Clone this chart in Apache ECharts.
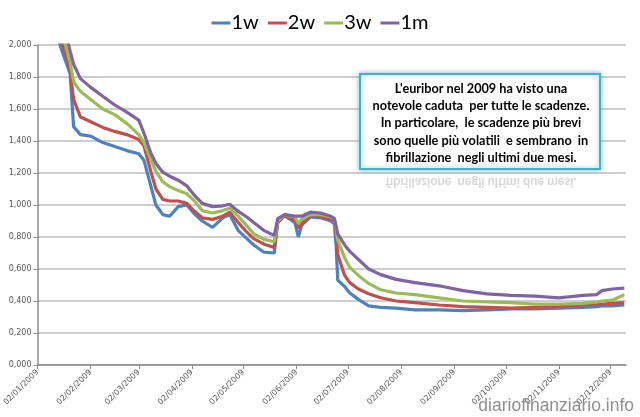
<!DOCTYPE html>
<html>
<head>
<meta charset="utf-8">
<script src="https://cdn.jsdelivr.net/npm/echarts@6/dist/echarts.min.js"></script>
<style>html,body{margin:0;padding:0;background:#fff}#c{width:640px;height:417px}</style>
</head>
<body>
<div id="c"></div>
<script>
// ---- data ----
const dates = ['2009-01-02','2009-01-09','2009-01-14','2009-01-16','2009-01-19','2009-01-21','2009-01-23','2009-01-27',
'2009-02-02','2009-02-09','2009-02-16','2009-02-23','2009-03-02','2009-03-05','2009-03-09','2009-03-12','2009-03-16',
'2009-03-20','2009-03-25','2009-03-30','2009-04-03','2009-04-08','2009-04-14','2009-04-20','2009-04-24','2009-04-29',
'2009-05-04','2009-05-08','2009-05-14','2009-05-20','2009-05-22','2009-05-26','2009-06-01','2009-06-03','2009-06-05',
'2009-06-10','2009-06-16','2009-06-22','2009-06-24','2009-06-25','2009-06-26','2009-06-30','2009-07-03','2009-07-08',
'2009-07-14','2009-07-21','2009-07-30','2009-08-10','2009-08-24','2009-09-07','2009-09-21','2009-10-05','2009-10-19',
'2009-11-02','2009-11-16','2009-11-24','2009-11-27','2009-12-03','2009-12-10'];
const w1 = [2.40,2.20,2.04,1.97,1.88,1.82,1.49,1.44,
1.43,1.39,1.365,1.34,1.32,1.28,1.12,1.00,0.94,
0.93,0.99,1.00,0.95,0.90,0.86,0.92,0.94,0.84,
0.79,0.75,0.705,0.70,0.89,0.935,0.89,0.80,0.875,
0.925,0.92,0.90,0.88,0.75,0.53,0.49,0.45,0.41,
0.37,0.36,0.355,0.345,0.345,0.34,0.345,0.35,0.35,
0.355,0.36,0.365,0.37,0.37,0.375];
const w2 = [2.50,2.30,2.10,2.02,1.92,1.84,1.66,1.55,
1.52,1.485,1.46,1.44,1.41,1.37,1.21,1.10,1.035,
1.025,1.025,1.01,0.965,0.92,0.91,0.93,0.955,0.89,
0.83,0.79,0.755,0.735,0.89,0.935,0.905,0.855,0.885,
0.93,0.925,0.91,0.905,0.83,0.69,0.56,0.515,0.475,
0.445,0.42,0.40,0.39,0.375,0.365,0.36,0.355,0.36,
0.365,0.375,0.38,0.38,0.385,0.39];
const w3 = [2.60,2.40,2.20,2.10,1.97,1.89,1.77,1.71,
1.66,1.60,1.565,1.51,1.44,1.39,1.285,1.21,1.145,
1.115,1.09,1.07,1.03,0.965,0.95,0.965,0.98,0.93,
0.87,0.82,0.785,0.77,0.90,0.94,0.925,0.885,0.91,
0.94,0.94,0.925,0.915,0.85,0.78,0.67,0.61,0.56,
0.51,0.47,0.45,0.44,0.42,0.40,0.395,0.39,0.38,
0.38,0.385,0.395,0.40,0.405,0.44];
const m1 = [2.70,2.50,2.30,2.20,2.05,1.96,1.88,1.79,
1.735,1.68,1.625,1.58,1.53,1.45,1.325,1.26,1.205,
1.18,1.155,1.12,1.065,1.01,0.99,0.995,1.005,0.96,
0.925,0.89,0.84,0.81,0.915,0.94,0.93,0.93,0.93,
0.955,0.95,0.93,0.915,0.87,0.82,0.75,0.71,0.66,
0.60,0.565,0.535,0.515,0.495,0.465,0.445,0.435,0.43,
0.42,0.435,0.44,0.465,0.475,0.48];
const seriesNames = ['1w','2w','3w','1m'];
const tickDates = ['2009-01-02','2009-02-02','2009-03-02','2009-04-02','2009-05-02','2009-06-02',
'2009-07-02','2009-08-02','2009-09-02','2009-10-02','2009-11-02','2009-12-02'];
const axisStart = '2009-01-02';
const axisEnd = '2009-12-11';
const noteLines = ["L'euribor nel 2009 ha visto una","notevole caduta  per tutte le scadenze.",
"In particolare,  le scadenze più brevi","sono quelle più volatili  e sembrano  in",
"fibrillazione  negli ultimi due mesi."];
const watermark = 'diariofinanziario.info';

// ---- helpers: dates -> day number since axisStart ----
function ts(s){const p=s.split('-');return Date.UTC(+p[0],+p[1]-1,+p[2]);}
const t0 = ts(axisStart);
function dayNum(s){return Math.round((ts(s)-t0)/86400000);}
function pad(n){return (n<10?'0':'')+n;}
function dayLabel(v){const d=new Date(t0+Math.round(v)*86400000);return pad(d.getUTCDate())+'/'+pad(d.getUTCMonth()+1)+'/'+d.getUTCFullYear();}

const colors = ['#4F81BD','#C0504D','#9BBB59','#8064A2'];
const allSeries = [w1,w2,w3,m1];
const tickDays = tickDates.map(dayNum);

const chart = echarts.init(document.getElementById('c'), null, {renderer:'canvas'});
chart.setOption({
  animation:false,
  backgroundColor:'#ffffff',
  color:colors,
  legend:{
    top:8, left:'center',
    icon:'rect', itemWidth:19, itemHeight:3, itemGap:9,
    textStyle:{fontFamily:'Lato', fontSize:20, color:'#000', padding:[0,0,0,-4]},
    data:seriesNames
  },
  grid:{left:36, right:14, top:45, bottom:52, containLabel:false},
  xAxis:{
    type:'value',
    min:0, max:dayNum(axisEnd),
    axisLine:{lineStyle:{color:'#8c8c8c', width:1.5}},
    axisTick:{show:true, length:4, customValues:tickDays, lineStyle:{color:'#8c8c8c'}},
    splitLine:{show:false},
    axisLabel:{
      customValues:tickDays, rotate:45, fontSize:8, color:'#595959', fontFamily:'DejaVu Sans', margin:6,
      formatter:dayLabel
    }
  },
  yAxis:{
    type:'value', min:0, max:2, interval:0.2,
    axisLine:{show:true, lineStyle:{color:'#8c8c8c', width:1.5}},
    axisTick:{show:true, length:4, lineStyle:{color:'#8c8c8c'}},
    splitLine:{lineStyle:{color:'#bdbdbd', width:1.5}},
    axisLabel:{fontSize:8, color:'#595959', fontFamily:'DejaVu Sans', margin:6,
      formatter:function(v){return v.toFixed(3).replace('.',',');}}
  },
  series: seriesNames.map(function(n,i){
    return {name:n, type:'line', showSymbol:false, clip:true,
      lineStyle:{width:3.2}, data: dates.map(function(d,k){return [dayNum(d), allSeries[i][k]];})};
  }),
  graphic:[
    {type:'rect', x:360, y:74, z:10,
      shape:{width:240, height:95},
      style:{fill:'#fff', stroke:'#4BACC6', lineWidth:2, shadowBlur:5, shadowColor:'rgba(75,172,198,0.7)'}},
    {type:'text', z:11, x:481, y:80,
      style:{text:noteLines.join('\n'), font:'bold 12.7px Lato', fill:'#000', align:'center', verticalAlign:'top', lineHeight:17.3}},
    {type:'text', z:11, x:481, y:176, scaleY:-1, originX:0, originY:0,
      style:{text:noteLines[4], font:'bold 12.7px Lato', fill:'rgba(140,140,140,0.35)', align:'center', verticalAlign:'bottom'}},
    {type:'text', z:12, right:6, bottom:2,
      style:{text:watermark, font:'17.5px Liberation Sans', fill:'#8f8f8f'}}
  ]
});
</script>
</body>
</html>
